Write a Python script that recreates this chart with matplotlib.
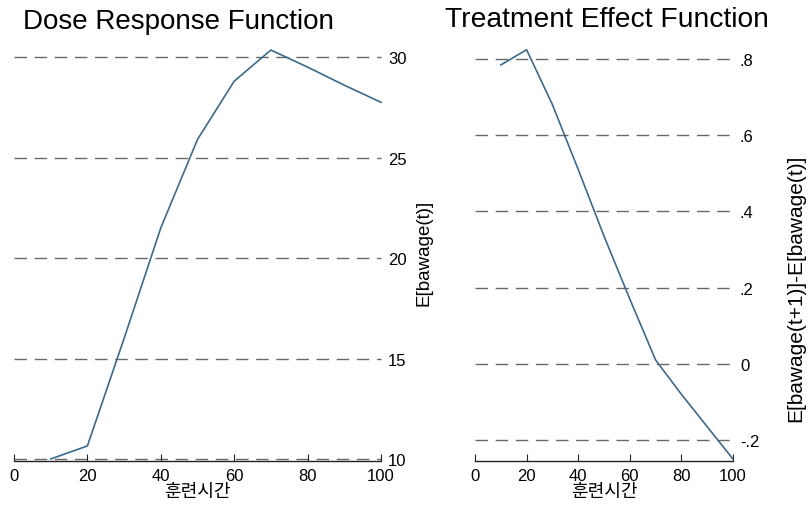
import numpy as np
import matplotlib
matplotlib.use("Agg")
import matplotlib.pyplot as plt

plt.rcParams['font.family'] = ['Liberation Sans', 'Noto Sans CJK KR', 'DejaVu Sans']

# data
hours = [10, 20, 30, 40, 50, 60, 70, 80, 90, 100]
dose = [10.0, 10.65, 16.0, 21.5, 25.9, 28.8, 30.35, 29.5, 28.6, 27.75]
effect = [0.784, 0.824, 0.68, 0.51, 0.335, 0.17, 0.01, -0.08, -0.165, -0.25]

x_ticks = [0, 20, 40, 60, 80, 100]
dose_ticks = [10, 15, 20, 25, 30]
dose_labels = ['10', '15', '20', '25', '30']
eff_ticks = [-0.2, 0, 0.2, 0.4, 0.6, 0.8]
eff_labels = ['-.2', '0', '.2', '.4', '.6', '.8']

W, H = 810, 506
line_col = '#3d6a8b'
grid_col = '#686868'


def px_axes(fig, x0, x1, y_top, y_bot):
    return fig.add_axes([x0 / W, 1 - y_bot / H, (x1 - x0) / W, (y_bot - y_top) / H])


def style(ax, yticks, ylabels):
    for s in ['top', 'left', 'right']:
        ax.spines[s].set_visible(False)
    ax.spines['bottom'].set_linewidth(1.0)
    ax.spines['bottom'].set_color('#222222')
    ax.set_xlim(0, 100)
    ax.set_xticks(x_ticks)
    ax.tick_params(axis='x', direction='in', length=5, width=0.8, color='#222222',
                   labelsize=12, pad=5)
    ax.yaxis.tick_right()
    ax.set_yticks(yticks)
    ax.set_yticklabels(ylabels)
    ax.tick_params(axis='y', length=0, labelsize=12, pad=5)
    for t in yticks:
        ax.axhline(t, color=grid_col, lw=1.0, ls=(0, (9, 5.5)), zorder=1, clip_on=False)


fig = plt.figure(figsize=(W / 100, H / 100), dpi=100)

ax1 = px_axes(fig, 14, 381, 45, 462)
ax1.plot(hours, dose, color=line_col, lw=1.2, zorder=3, clip_on=False)
ax1.set_ylim(9.9, 30.65)
style(ax1, dose_ticks, dose_labels)

ax2 = px_axes(fig, 475, 733, 45, 462)
ax2.plot(hours, effect, color=line_col, lw=1.2, zorder=3, clip_on=False)
ax2.set_ylim(-0.255, 0.839)
style(ax2, eff_ticks, eff_labels)

# axis titles placed by pixel position
fig.text(197 / W, 1 - 493 / H, '훈련시간', fontsize=13, ha='center', va='center')
fig.text(604 / W, 1 - 493 / H, '훈련시간', fontsize=13, ha='center', va='center')
fig.text(424 / W, 1 - 253 / H, 'E[bawage(t)]', fontsize=13.5, rotation=90,
         ha='center', va='center')
fig.text(796 / W, 1 - 288 / H, 'E[bawage(t+1)]-E[bawage(t)]', fontsize=15,
         rotation=90, ha='center', va='center')

fig.text(178 / W, 1 - 22 / H, 'Dose Response Function', fontsize=20,
         ha='center', va='center')
fig.text(607 / W, 1 - 20 / H, 'Treatment Effect Function', fontsize=20.3,
         ha='center', va='center')

fig.savefig('out.png', dpi=100)
